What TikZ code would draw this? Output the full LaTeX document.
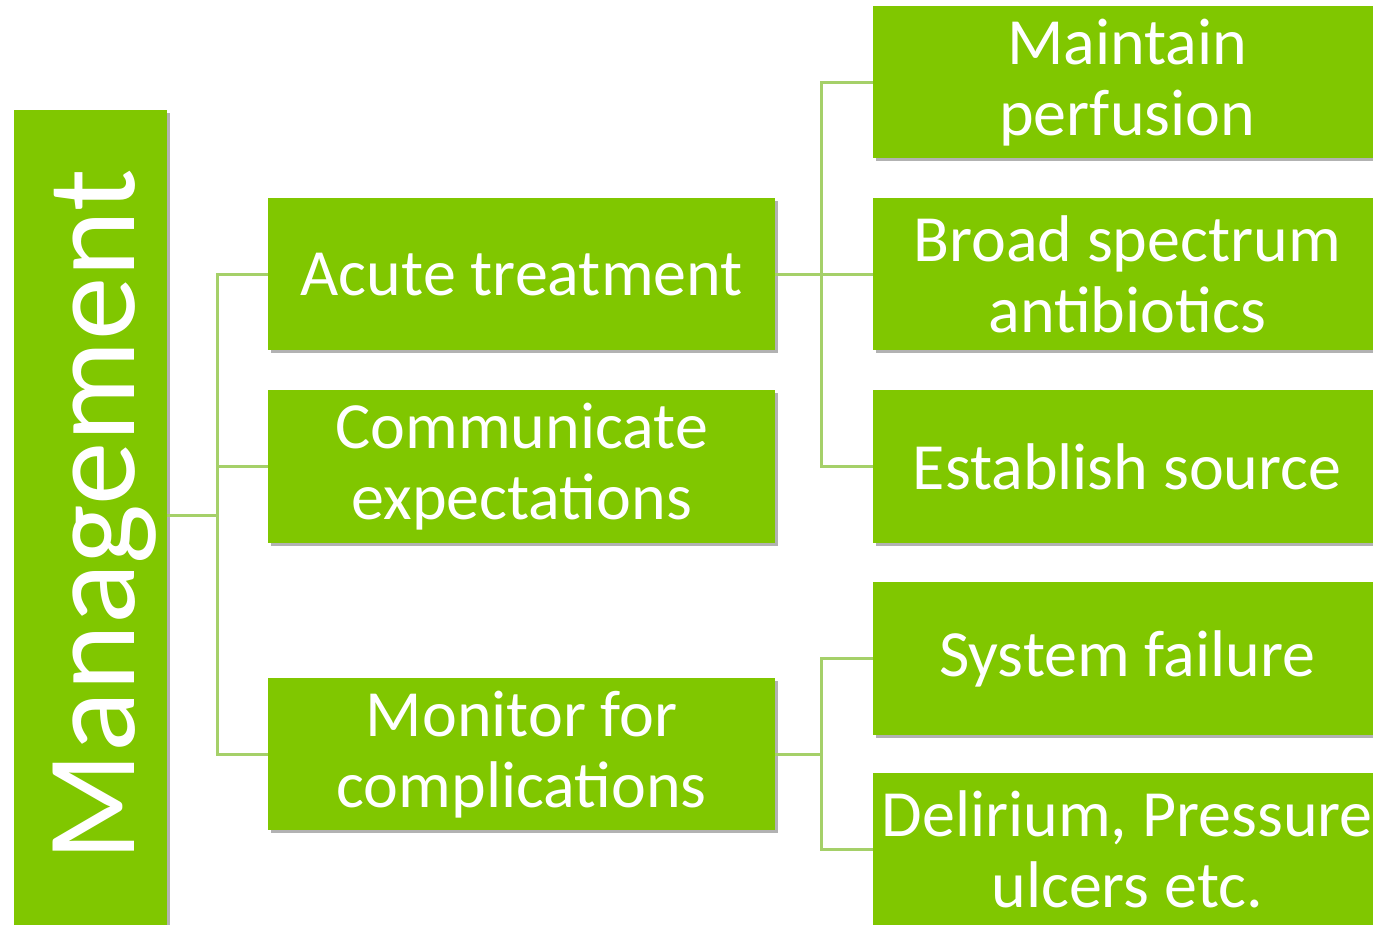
\documentclass[tikz,border=0pt]{standalone}
\usepackage{fontspec}
\setmainfont{Carlito}
\usetikzlibrary{shadows}
\definecolor{boxgreen}{RGB}{128,199,0}
\definecolor{linegreen}{RGB}{165,208,105}
\tikzset{
  box/.style={fill=boxgreen, draw=none, text=white, align=center, inner sep=0pt,
    anchor=north west, font=\fontsize{66}{71}\selectfont,
    drop shadow={shadow xshift=3pt, shadow yshift=-3pt, fill=black, opacity=0.3}},
  conn/.style={draw=linegreen, line width=3pt}
}
\begin{document}
\begin{tikzpicture}[x=1pt,y=-1pt]
\useasboundingbox (0,0) rectangle (1373,924);
\fill[white] (0,0) rectangle (1373,924);
% left
\node[box, minimum width=153pt, minimum height=820pt] (mgmt) at (14,110) {};
\node[text=white, rotate=90, font=\fontsize{127}{130}\selectfont] (mgmtlabel) at ([xshift=14pt,yshift=5pt]mgmt.center) {Management};
% middle
\node[box, minimum width=507pt, minimum height=152pt] (acute) at (268,198) {Acute treatment};
\node[box, minimum width=507pt, minimum height=153pt] (comm) at (268,390) {Communicate\\expectations};
\node[box, minimum width=507pt, minimum height=152pt] (mon) at (268,678) {Monitor for\\complications};
% right
\node[box, minimum width=508pt, minimum height=152pt] (maint) at (873,6) {Maintain\\perfusion};
\node[box, minimum width=508pt, minimum height=152pt] (broad) at (873,198) {Broad spectrum\\antibiotics};
\node[box, minimum width=508pt, minimum height=153pt] (est) at (873,390) {Establish source};
\node[box, minimum width=508pt, minimum height=153pt] (sys) at (873,582) {System failure};
\node[box, minimum width=508pt, minimum height=152pt] (del) at (873,773) {Delirium, Pressure\\ulcers etc.};
% connectors
\coordinate (mj) at (217,515);
\coordinate (aj) at (821,273);
\coordinate (nj) at (821,753);
\draw[conn] (mgmt.east |- mj) -- (mj);
\draw[conn] (acute.west) -| (mj) |- (mon.west);
\draw[conn] (comm.west) -- (comm.west -| mj);
\draw[conn] (acute.east) -- (acute.east -| aj);
\draw[conn] (maint.west) -| (aj) |- (est.west);
\draw[conn] (broad.west) -- (broad.west -| aj);
\draw[conn] (mon.east) -- (mon.east -| nj);
\draw[conn] (sys.west) -| (nj) |- (del.west);
\end{tikzpicture}
\end{document}
